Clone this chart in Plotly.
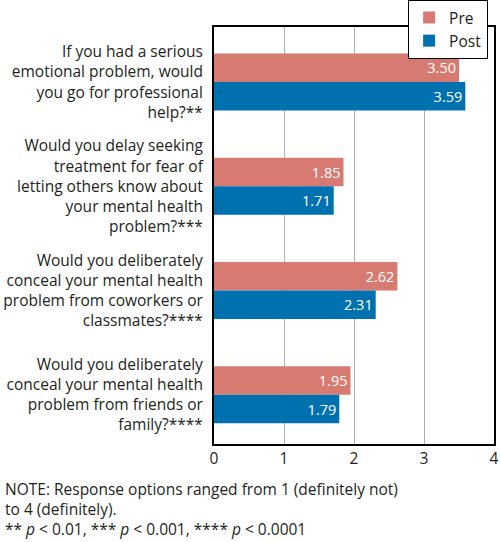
import plotly.graph_objects as go

categories = [
    "If you had a serious<br>emotional problem, would<br>you go for professional<br>help?**",
    "Would you delay seeking<br>treatment for fear of<br>letting others know about<br>your mental health<br>problem?***",
    "Would you deliberately<br>conceal your mental health<br>problem from coworkers or<br>classmates?****",
    "Would you deliberately<br>conceal your mental health<br>problem from friends or<br>family?****",
]
pre_values = [3.50, 1.85, 2.62, 1.95]
post_values = [3.59, 1.71, 2.31, 1.79]
x_ticks = [0, 1, 2, 3, 4]

FONT = "Open Sans"
TXT = "#231F20"
FS = 15.5

fig = go.Figure()
fig.add_trace(go.Bar(
    y=categories, x=pre_values, orientation="h", name="Pre",
    marker=dict(color="#D77B72", line=dict(width=0)),
    texttemplate="%{x:.2f}", textposition="inside", insidetextanchor="end",
    textfont=dict(color="white", size=14.5, family=FONT),
))
fig.add_trace(go.Bar(
    y=categories, x=post_values, orientation="h", name="Post",
    marker=dict(color="#0071AF", line=dict(width=0)),
    texttemplate="%{x:.2f}", textposition="inside", insidetextanchor="end",
    textfont=dict(color="white", size=14.5, family=FONT),
))

fig.update_layout(
    width=500, height=542,
    margin=dict(l=214, r=6, t=27, b=98, autoexpand=False),
    paper_bgcolor="white", plot_bgcolor="white",
    barmode="group", bargap=0.453, bargroupgap=0,
    font=dict(family=FONT, size=FS, color=TXT),
    showlegend=True,
    legend=dict(
        x=0.979, xanchor="right", y=1.065, yanchor="top",
        bordercolor="black", borderwidth=1, bgcolor="white",
        traceorder="normal", font=dict(size=FS, family=FONT, color=TXT),
        itemwidth=30, tracegroupgap=0,
    ),
    xaxis=dict(
        range=[0, 4], tickvals=x_ticks, ticktext=[str(t) for t in x_ticks],
        showgrid=True, gridcolor="#B0B0B0", gridwidth=1,
        zeroline=False, showline=True, linecolor="black", linewidth=1.5,
        mirror=True, ticks="", tickfont=dict(size=FS, color=TXT),
        automargin=False,
    ),
    yaxis=dict(
        range=[3.472, -0.528], showline=True, linecolor="black", linewidth=2,
        mirror=True, ticks="", showgrid=False, automargin=False,
        tickfont=dict(size=FS, color=TXT), ticklabelstandoff=6,
    ),
    annotations=[dict(
        xref="paper", yref="paper", x=-0.7536, y=-0.077,
        xanchor="left", yanchor="top", align="left", showarrow=False,
        text="NOTE: Response options ranged from 1 (definitely not)<br>to 4 (definitely).<br>** <i>p</i> &lt; 0.01, *** <i>p</i> &lt; 0.001, **** <i>p</i> &lt; 0.0001",
        font=dict(size=FS, family=FONT, color=TXT),
    )],
)

fig.write_html(
    "out.html",
    config={"displayModeBar": False},
    post_script="document.body.style.margin='0';document.body.style.padding='0';",
)
